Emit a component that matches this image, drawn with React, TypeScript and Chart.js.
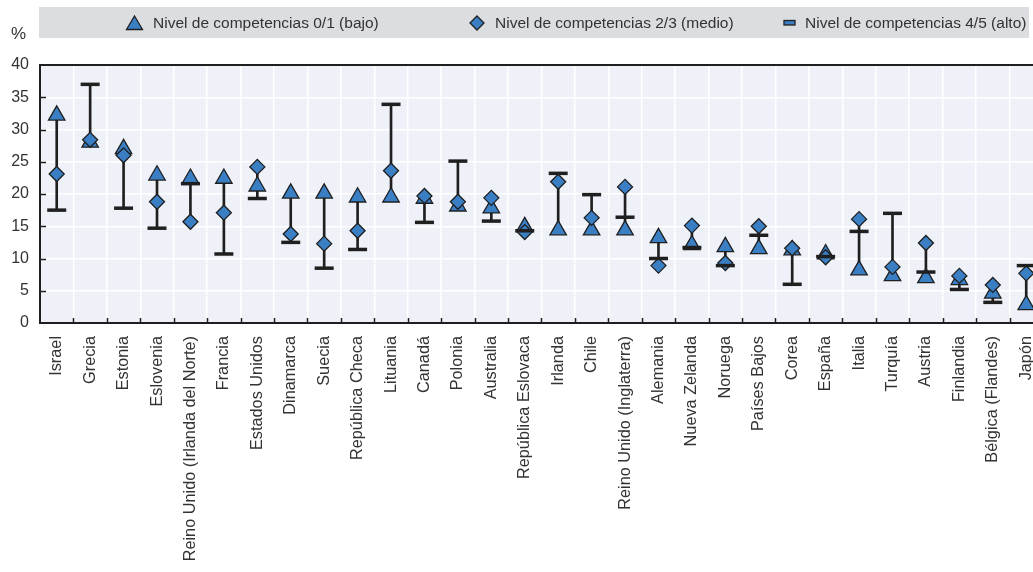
import React, { useEffect, useRef } from "react";
import { Chart, registerables } from "chart.js";

Chart.register(...registerables);

const categories = [
  "Israel", "Grecia", "Estonia", "Eslovenia", "Reino Unido (Irlanda del Norte)", "Francia",
  "Estados Unidos", "Dinamarca", "Suecia", "República Checa", "Lituania", "Canadá", "Polonia",
  "Australia", "República Eslovaca", "Irlanda", "Chile", "Reino Unido (Inglaterra)", "Alemania",
  "Nueva Zelanda", "Noruega", "Países Bajos", "Corea", "España", "Italia", "Turquía", "Austria",
  "Finlandia", "Bélgica (Flandes)", "Japón",
];

const lowLevel = [32.2, 28.0, 27.0, 22.9, 22.4, 22.4, 21.2, 20.1, 20.1, 19.5, 19.5, 19.3, 18.1, 17.8, 14.9, 14.4, 14.4, 14.4, 13.2, 12.1, 11.8, 11.5, 11.3, 10.7, 8.2, 7.3, 7.0, 6.7, 4.6, 2.8];
const midLevel = [23.1, 28.4, 26.0, 18.8, 15.7, 17.1, 24.2, 13.8, 12.3, 14.3, 23.6, 19.7, 18.8, 19.4, 14.1, 21.9, 16.3, 21.1, 8.9, 15.1, 9.3, 15.0, 11.6, 10.2, 16.1, 8.7, 12.4, 7.3, 5.9, 7.7];
const highLevel = [17.5, 37.0, 17.8, 14.7, 21.6, 10.7, 19.3, 12.5, 8.5, 11.4, 33.9, 15.6, 25.1, 15.8, 14.3, 23.2, 19.9, 16.4, 10.0, 11.7, 8.9, 13.6, 6.0, 10.3, 14.2, 17.0, 7.9, 5.2, 3.2, 8.9];

const seriesNames = [
  "Nivel de competencias 0/1 (bajo)",
  "Nivel de competencias 2/3 (medio)",
  "Nivel de competencias 4/5 (alto)",
];
const yTicks = [0, 5, 10, 15, 20, 25, 30, 35, 40];

const BLUE = "#3a7ec4";
const DARK = "#1f1f1f";
const TEXT = "#333333";
const FONT = "'Liberation Sans', Arial, sans-serif";

const framePlugin = {
  id: "framePlugin",
  beforeDraw(chart: any) {
    const { ctx, chartArea } = chart;
    ctx.save();
    ctx.fillStyle = "#eef1f8";
    ctx.fillRect(chartArea.left, chartArea.top, chartArea.right - chartArea.left, chartArea.bottom - chartArea.top);
    ctx.restore();
  },
  beforeDatasetsDraw(chart: any) {
    const { ctx, chartArea, scales } = chart;
    const x = scales.x;
    const y = scales.y;
    ctx.save();
    ctx.strokeStyle = DARK;
    ctx.lineWidth = 2;
    ctx.beginPath();
    ctx.moveTo(chartArea.left - 1, chartArea.top);
    ctx.lineTo(chartArea.right, chartArea.top);
    ctx.stroke();
    ctx.lineWidth = 1.5;
    ctx.beginPath();
    yTicks.forEach((v) => {
      if (v === 0 || v === 40) return;
      const py = Math.round(y.getPixelForValue(v)) + 0.5;
      ctx.moveTo(chartArea.left, py);
      ctx.lineTo(chartArea.left + 6, py);
    });
    for (let i = 1; i < categories.length; i++) {
      const px = Math.round((x.getPixelForValue(i - 1) + x.getPixelForValue(i)) / 2) + 0.5;
      ctx.moveTo(px, chartArea.bottom);
      ctx.lineTo(px, chartArea.bottom - 5);
    }
    ctx.stroke();
    ctx.restore();
  },
};

function LegendBox() {
  const textStyle: React.CSSProperties = {
    position: "absolute",
    top: 7,
    height: 31,
    lineHeight: "31px",
    fontFamily: FONT,
    fontSize: 15.5,
    color: TEXT,
    whiteSpace: "nowrap",
  };
  return (
    <>
      <div style={{ position: "absolute", left: 11, top: 24, fontFamily: FONT, fontSize: 17, color: TEXT }}>%</div>
      <div style={{ position: "absolute", left: 39, top: 7, width: 990, height: 31, background: "#dcdde0" }} />
      <svg style={{ position: "absolute", left: 125, top: 14 }} width={19} height={18}>
        <polygon points="9.5,2 17.5,15.5 1.5,15.5" fill={BLUE} stroke={DARK} strokeWidth={1.3} />
      </svg>
      <div style={{ ...textStyle, left: 153 }}>{seriesNames[0]}</div>
      <svg style={{ position: "absolute", left: 468, top: 14 }} width={18} height={18}>
        <polygon points="9,2 16,9 9,16 2,9" fill={BLUE} stroke={DARK} strokeWidth={1.3} />
      </svg>
      <div style={{ ...textStyle, left: 495 }}>{seriesNames[1]}</div>
      <svg style={{ position: "absolute", left: 782, top: 17 }} width={16} height={12}>
        <rect x={2} y={3.5} width={11} height={4.5} fill={BLUE} stroke={DARK} strokeWidth={1.3} />
      </svg>
      <div style={{ ...textStyle, left: 805 }}>{seriesNames[2]}</div>
    </>
  );
}

export default function App() {
  const canvasRef = useRef<HTMLCanvasElement | null>(null);

  useEffect(() => {
    if (!canvasRef.current) return;
    const ranges = categories.map((_, i) => [
      Math.min(lowLevel[i], midLevel[i], highLevel[i]),
      Math.max(lowLevel[i], midLevel[i], highLevel[i]),
    ]);
    const chart = new Chart(canvasRef.current, {
      type: "bar",
      data: {
        labels: categories,
        datasets: [
          {
            type: "bar",
            label: "rango",
            data: ranges as any,
            backgroundColor: DARK,
            barThickness: 2,
            order: 4,
          },
          {
            type: "line",
            label: seriesNames[0],
            data: lowLevel,
            showLine: false,
            pointStyle: "triangle",
            pointRadius: 9.5,
            pointBackgroundColor: BLUE,
            pointBorderColor: DARK,
            pointBorderWidth: 1.3,
            order: 3,
          },
          {
            type: "line",
            label: seriesNames[1],
            data: midLevel,
            showLine: false,
            pointStyle: "rectRot",
            pointRadius: 7.5,
            pointBackgroundColor: BLUE,
            pointBorderColor: DARK,
            pointBorderWidth: 1.3,
            order: 2,
          },
          {
            type: "line",
            label: seriesNames[2],
            data: highLevel,
            showLine: false,
            pointStyle: "line",
            pointRadius: 9.5,
            pointBorderColor: DARK,
            pointBorderWidth: 3.5,
            order: 1,
          },
        ] as any,
      },
      options: {
        responsive: false,
        animation: false,
        layout: { padding: { top: 65, right: 8, left: 0, bottom: 0 } },
        plugins: { legend: { display: false }, tooltip: { enabled: false } },
        scales: {
          x: {
            offset: true,
            grid: { color: "#ffffff", lineWidth: 1.5, offset: true, drawTicks: false },
            border: { color: DARK, width: 2 },
            ticks: {
              autoSkip: false,
              maxRotation: 90,
              minRotation: 90,
              padding: 13,
              color: TEXT,
              font: { family: FONT, size: 16.3 },
            },
            afterFit(scale: any) {
              scale.height = 249;
            },
          },
          y: {
            min: 0,
            max: 40,
            grid: { color: "#ffffff", lineWidth: 1.5, drawTicks: false },
            border: { color: DARK, width: 2 },
            afterBuildTicks(scale: any) {
              scale.ticks = yTicks.map((v) => ({ value: v }));
            },
            ticks: {
              padding: 11,
              color: TEXT,
              font: { family: FONT, size: 16 },
            },
            afterFit(scale: any) {
              scale.width = 40;
            },
          },
        },
      },
      plugins: [framePlugin],
    });
    return () => chart.destroy();
  }, []);

  return (
    <div style={{ position: "fixed", left: 0, top: 0, width: 1033, height: 572, overflow: "hidden", background: "#fff" }}>
      <canvas ref={canvasRef} width={1059} height={572} style={{ position: "absolute", left: 0, top: 0, width: 1059, height: 572 }} />
      <LegendBox />
    </div>
  );
}
